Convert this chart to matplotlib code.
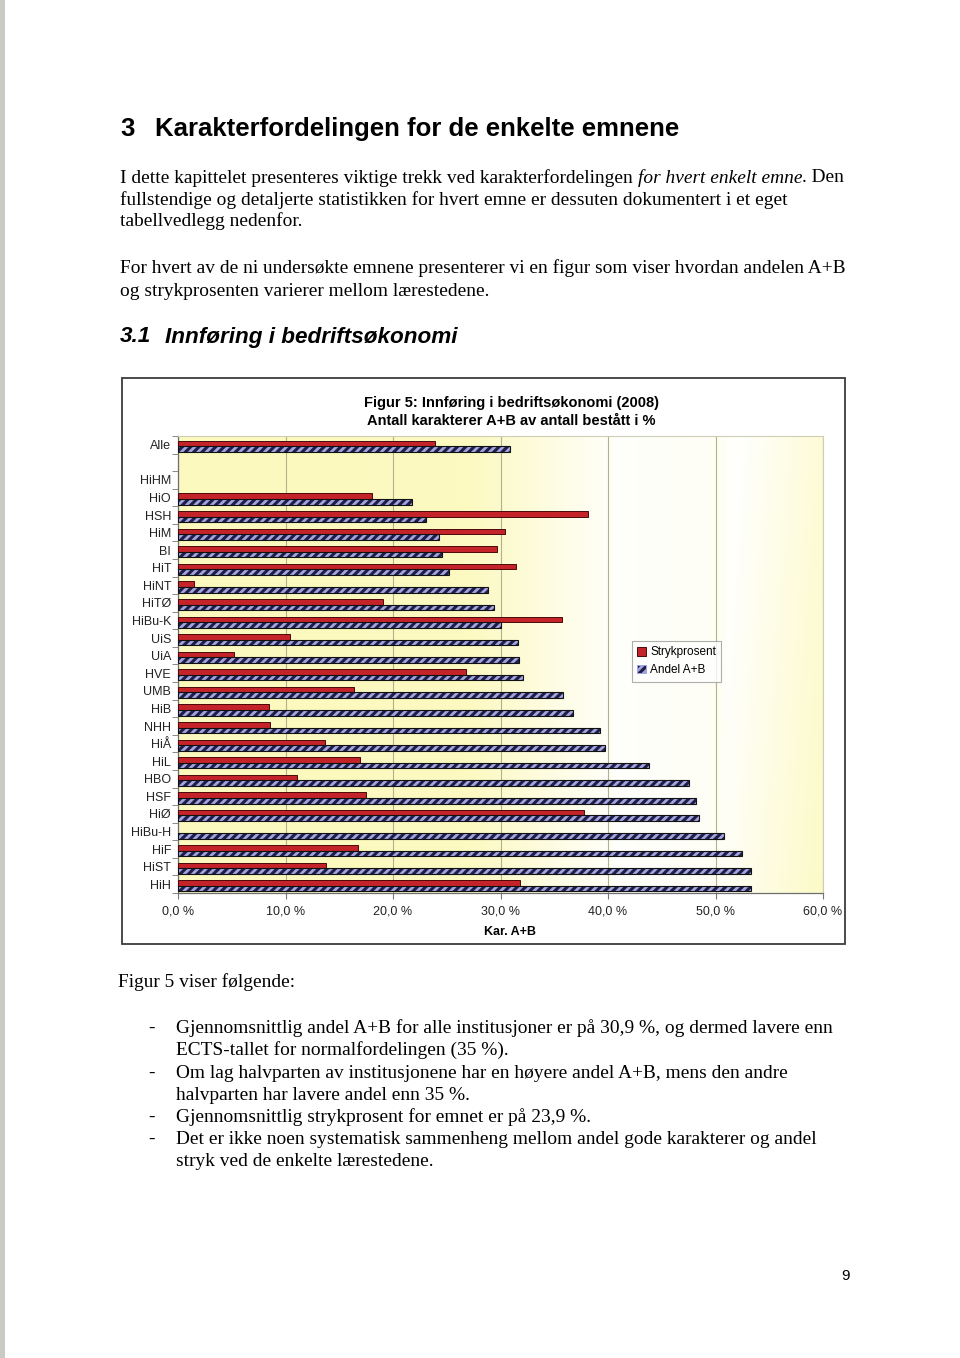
import numpy as np
import matplotlib
matplotlib.use("Agg")
import matplotlib.pyplot as plt
from matplotlib.patches import Rectangle, Patch

# ---------------- data ----------------
institutions = ['Alle', '', 'HiHM', 'HiO', 'HSH', 'HiM', 'BI', 'HiT', 'HiNT', 'HiTØ',
                'HiBu-K', 'UiS', 'UiA', 'HVE', 'UMB', 'HiB', 'NHH', 'HiÅ', 'HiL',
                'HBO', 'HSF', 'HiØ', 'HiBu-H', 'HiF', 'HiST', 'HiH']
strykprosent = [23.9, np.nan, np.nan, 18.0, 38.1, 30.4, 29.7, 31.4, 1.5, 19.1,
                35.7, 10.4, 5.2, 26.8, 16.4, 8.5, 8.6, 13.7, 16.9,
                11.1, 17.5, 37.8, np.nan, 16.7, 13.8, 31.8]
andel_ab = [30.9, np.nan, np.nan, 21.8, 23.1, 24.3, 24.6, 25.2, 28.8, 29.4,
            30.0, 31.6, 31.7, 32.1, 35.8, 36.7, 39.3, 39.7, 43.8,
            47.5, 48.2, 48.5, 50.8, 52.5, 53.3, 53.3]
x_ticks = [0, 10, 20, 30, 40, 50, 60]
x_ticklabels = ['0,0 %', '10,0 %', '20,0 %', '30,0 %', '40,0 %', '50,0 %', '60,0 %']
series_names = ['Strykprosent', 'Andel A+B']
chart_title = 'Figur 5: Innføring i bedriftsøkonomi (2008)\nAntall karakterer A+B av antall bestått i %'
x_label = 'Kar. A+B'

heading = ('3', 'Karakterfordelingen for de enkelte emnene')
subheading = ('3.1', 'Innføring i bedriftsøkonomi')
para1 = [
    [('I dette kapittelet presenteres viktige trekk ved karakterfordelingen', 'normal'),
     ('for hvert enkelt emne', 'italic'), ('. Den', 'normal')],
    [('fullstendige og detaljerte statistikken for hvert emne er dessuten dokumentert i et eget', 'normal')],
    [('tabellvedlegg nedenfor.', 'normal')],
]
para2 = ['For hvert av de ni undersøkte emnene presenterer vi en figur som viser hvordan andelen A+B',
         'og strykprosenten varierer mellom lærestedene.']
after_fig = 'Figur 5 viser følgende:'
bullets = [
    ['Gjennomsnittlig andel A+B for alle institusjoner er på 30,9 %, og dermed lavere enn',
     'ECTS-tallet for normalfordelingen (35 %).'],
    ['Om lag halvparten av institusjonene har en høyere andel A+B, mens den andre',
     'halvparten har lavere andel enn 35 %.'],
    ['Gjennomsnittlig strykprosent for emnet er på 23,9 %.'],
    ['Det er ikke noen systematisk sammenheng mellom andel gode karakterer og andel',
     'stryk ved de enkelte lærestedene.'],
]
page_number = '9'

# ---------------- figure ----------------
W, H = 960, 1358
fig = plt.figure(figsize=(W / 100, H / 100), dpi=100)
fig.patch.set_facecolor('white')

def fx(x):
    return x / W

def fy(y):
    return 1 - y / H

SERIF = ['Liberation Serif', 'DejaVu Serif']
SANS = ['Liberation Sans', 'DejaVu Sans']
NARROW = ['Liberation Sans Narrow', 'Liberation Sans', 'DejaVu Sans']

# scan edge
fig.add_artist(Rectangle((0, 0), fx(5), 1, transform=fig.transFigure,
                         facecolor='#c9cbc2', edgecolor='none'))

renderer = fig.canvas.get_renderer()

def text_width(s, **kw):
    t = fig.text(0, 0, s, **kw)
    w = t.get_window_extent(renderer=renderer).width
    t.remove()
    return w

def draw_runs(x, y, parts, size):
    cx = x
    space = text_width('a a', family=SERIF, size=size) - text_width('aa', family=SERIF, size=size)
    for i, (s, style) in enumerate(parts):
        t = fig.text(fx(cx), fy(y), s, family=SERIF, size=size, style=style,
                     va='center', ha='left')
        w = t.get_window_extent(renderer=renderer).width
        cx += w
        if i + 1 < len(parts) and not parts[i + 1][0].startswith(('.', ',')):
            cx += space

BODY = 13.95
# heading
fig.text(fx(120), fy(129), heading[0], family=SANS, size=18.5, weight='bold', va='center')
fig.text(fx(155), fy(129), heading[1], family=SANS, size=18.5, weight='bold', va='center')

for i, line in enumerate(para1):
    draw_runs(120, [178, 200, 221][i], line, BODY)
for i, line in enumerate(para2):
    fig.text(fx(120), fy([268, 291][i]), line, family=SERIF, size=BODY, va='center')

fig.text(fx(120), fy(337), subheading[0], family=SANS, size=16.2, weight='bold',
         style='italic', va='center')
fig.text(fx(165), fy(337), subheading[1], family=SANS, size=16.2, weight='bold',
         style='italic', va='center')

fig.text(fx(118), fy(982), after_fig, family=SERIF, size=BODY, va='center')
ys = [1028, 1050, 1073, 1095, 1117, 1139, 1161]
k = 0
for b in bullets:
    fig.text(fx(148), fy(ys[k]), '-', family=SERIF, size=BODY, va='center')
    for line in b:
        fig.text(fx(176), fy(ys[k]), line, family=SERIF, size=BODY, va='center')
        k += 1

fig.text(fx(845), fy(1276), page_number, family=SANS, size=11, va='center', ha='center')

# ---------------- chart ----------------
fig.add_artist(Rectangle((fx(122), fy(944)), fx(845) - fx(122), fy(378) - fy(944),
                         transform=fig.transFigure, facecolor='none',
                         edgecolor='#3c3c3c', linewidth=1.3, zorder=5))

fig.text(fx(511), fy(412), chart_title, family=NARROW, size=10.5, weight='bold',
         ha='center', va='center', linespacing=1.35)

ax = fig.add_axes([fx(178), fy(893), fx(823) - fx(178), fy(436) - fy(893)])
ax.set_zorder(2)
n = len(institutions)
ypos = np.arange(n)

# background gradient
gx = np.linspace(0, 1, 400)
gy = np.linspace(0, 1, 200)
GX, GY = np.meshgrid(gx, gy)
wmix = np.interp(GX, [0, 0.45, 0.68, 0.85, 1.0], [0.0, 0.05, 1.0, 0.9, 0.15])
wmix = np.clip(wmix + 0.25 * (1 - GY) * (GX > 0.85), 0, 1)
yellow = np.array([252, 249, 190]) / 255.0
white = np.array([1.0, 1.0, 0.985])
img = yellow[None, None, :] * (1 - wmix[..., None]) + white[None, None, :] * wmix[..., None]
ax.imshow(img, extent=[0, 60, n - 0.5, -0.5], aspect='auto', zorder=0)

plt.rcParams['hatch.linewidth'] = 2.0
s_vals = np.array(strykprosent, dtype=float)
a_vals = np.array(andel_ab, dtype=float)
h = 0.32
ax.barh(ypos - 0.07, s_vals, height=h, color='#c5232a', edgecolor='#4a0808',
        linewidth=0.7, zorder=3)
ax.barh(ypos + 0.25, a_vals, height=h, color='#1f1f45', edgecolor='#a4a4e2',
        hatch='////', linewidth=0, zorder=3)
ax.barh(ypos + 0.25, a_vals, height=h, fill=False, edgecolor='#111111',
        linewidth=0.8, zorder=4)

ax.set_xlim(0, 60)
ax.set_ylim(n - 0.5, -0.5)
ax.set_xticks(x_ticks)
ax.set_xticklabels(x_ticklabels, family=NARROW, size=9)
ax.set_yticks(ypos)
ax.set_yticklabels(institutions, family=NARROW, size=9)
ax.set_yticks(np.arange(n + 1) - 0.5, minor=True)
ax.tick_params(axis='y', which='major', length=0, pad=5, colors='#222222')
ax.tick_params(axis='y', which='minor', length=4, direction='out', color='#777777')
ax.tick_params(axis='x', which='major', length=4, direction='out', color='#777777',
               pad=5, labelcolor='#222222')
ax.grid(axis='x', color='#b3b08a', linewidth=0.8, zorder=1)
ax.set_axisbelow(True)
for side in ['top', 'right']:
    ax.spines[side].set_color('#cfcdb5')
    ax.spines[side].set_linewidth(0.8)
for side in ['left', 'bottom']:
    ax.spines[side].set_color('#6e6e6e')
    ax.spines[side].set_linewidth(0.9)

fig.text(fx(510), fy(932), x_label, family=NARROW, size=9, weight='bold',
         ha='center', va='center')

handles = [Patch(facecolor='#c5232a', edgecolor='#4a0808', linewidth=0.7),
           Patch(facecolor='#1f1f45', edgecolor='#a4a4e2', hatch='////', linewidth=0.7)]
leg = fig.legend(handles, series_names, loc='upper left',
                 bbox_to_anchor=(fx(632), fy(641)), bbox_transform=fig.transFigure,
                 prop={'family': NARROW, 'size': 8.5}, frameon=True, fancybox=False,
                 handlelength=0.75, handleheight=0.75, handletextpad=0.35,
                 borderpad=0.45, labelspacing=0.5, borderaxespad=0)
leg.set_zorder(6)
leg.get_frame().set_edgecolor('#9a9a9a')
leg.get_frame().set_linewidth(0.8)

fig.savefig('out.png', dpi=100)
